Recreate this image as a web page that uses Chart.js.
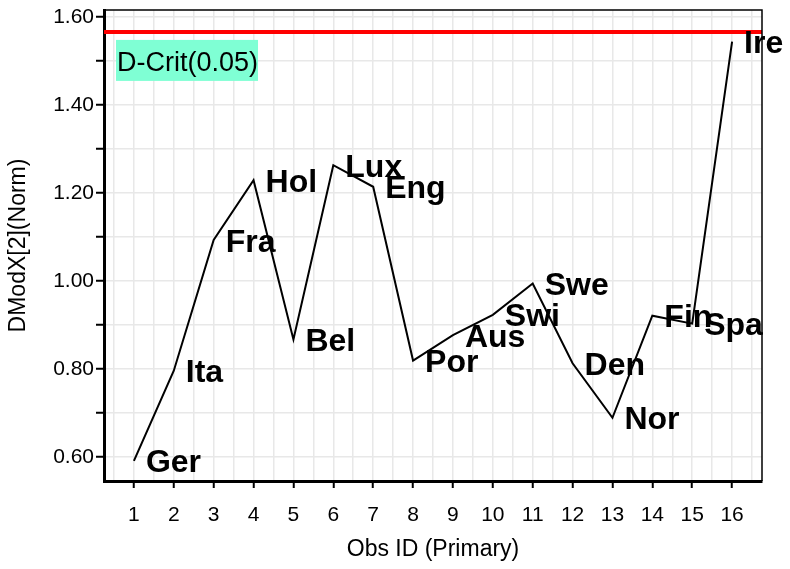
<!DOCTYPE html>
<html>
<head>
<meta charset="utf-8">
<script src="https://cdn.jsdelivr.net/npm/chart.js@4/dist/chart.umd.min.js"></script>
<style>
  html, body { margin: 0; padding: 0; background: #ffffff; }
  canvas { display: block; }
</style>
</head>
<body>
<canvas id="chart" width="790" height="569"></canvas>
<script>
// Observation ids and their short names
const obsIds = [1, 2, 3, 4, 5, 6, 7, 8, 9, 10, 11, 12, 13, 14, 15, 16];
const obsNames = ['Ger', 'Ita', 'Fra', 'Hol', 'Bel', 'Lux', 'Eng', 'Por', 'Aus', 'Swi', 'Swe', 'Den', 'Nor', 'Fin', 'Spa', 'Ire'];

// Normalised distance to the model, DModX[2](Norm)
const dmodx = [0.591, 0.796, 1.093, 1.229, 0.867, 1.263, 1.214, 0.819, 0.877, 0.923, 0.994, 0.813, 0.689, 0.921, 0.903, 1.544];

// Critical distance at the 0.05 level
const dCrit = 1.566;
const dCritLabel = 'D-Crit(0.05)';

// Axis ticks
const xTickValues = [1, 2, 3, 4, 5, 6, 7, 8, 9, 10, 11, 12, 13, 14, 15, 16];
const xGridValues = [0.5, 1, 1.5, 2, 2.5, 3, 3.5, 4, 4.5, 5, 5.5, 6, 6.5, 7, 7.5, 8, 8.5,
                     9, 9.5, 10, 10.5, 11, 11.5, 12, 12.5, 13, 13.5, 14, 14.5, 15, 15.5, 16, 16.5];
const yTickValues = [0.6, 0.7, 0.8, 0.9, 1.0, 1.1, 1.2, 1.3, 1.4, 1.5, 1.6];
const yLabelValues = [0.6, 0.8, 1.0, 1.2, 1.4, 1.6];
const xRange = [0.25, 16.75];
const yRange = [0.5453, 1.6158];

const FONT = "'Liberation Sans', Arial, Helvetica, sans-serif";
const GRID = '#e8e8e8';

const isLabelled = (v, list) => list.some(t => Math.abs(t - v) < 1e-6);

// Bold observation names next to each point
const pointLabels = {
  id: 'pointLabels',
  afterDatasetsDraw(chart) {
    const meta = chart.getDatasetMeta(0);
    const ctx = chart.ctx;
    ctx.save();
    ctx.font = `bold 32px ${FONT}`;
    ctx.fillStyle = '#000000';
    ctx.textAlign = 'left';
    ctx.textBaseline = 'alphabetic';
    meta.data.forEach((pt, i) => {
      ctx.fillText(obsNames[i], pt.x + 12, pt.y + 11.5);
    });
    ctx.restore();
  }
};

// Frame on top/right and the label box under the critical line
const frameAndBox = {
  id: 'frameAndBox',
  afterDatasetsDraw(chart) {
    const { ctx, chartArea: a, scales } = chart;
    ctx.save();
    ctx.strokeStyle = '#000000';
    ctx.lineWidth = 1.5;
    ctx.beginPath();
    ctx.moveTo(a.left, a.top);
    ctx.lineTo(a.right, a.top);
    ctx.lineTo(a.right, a.bottom);
    ctx.stroke();

    const yLine = scales.y.getPixelForValue(dCrit);
    ctx.font = `27px ${FONT}`;
    const w = ctx.measureText(dCritLabel).width;
    const bx = a.left + 12, by = yLine + 8;
    ctx.fillStyle = '#7fffd4';
    ctx.fillRect(bx, by, w + 1, 41);
    ctx.fillStyle = '#000000';
    ctx.textBaseline = 'alphabetic';
    ctx.fillText(dCritLabel, bx + 1, by + 31.5);
    ctx.restore();
  }
};

new Chart(document.getElementById('chart'), {
  type: 'line',
  data: {
    datasets: [
      {
        data: obsIds.map((x, i) => ({ x, y: dmodx[i] })),
        borderColor: '#000000',
        borderWidth: 2,
        pointRadius: 0,
        tension: 0,
        fill: false
      },
      {
        data: [{ x: xRange[0], y: dCrit }, { x: xRange[1], y: dCrit }],
        borderColor: '#ff0000',
        borderWidth: 4,
        pointRadius: 0,
        fill: false
      }
    ]
  },
  options: {
    responsive: false,
    animation: false,
    events: [],
    layout: { padding: { left: 0, right: 28, top: 10, bottom: 0 } },
    plugins: { legend: { display: false }, tooltip: { enabled: false } },
    scales: {
      x: {
        type: 'linear',
        min: xRange[0],
        max: xRange[1],
        afterBuildTicks(scale) { scale.ticks = xGridValues.map(v => ({ value: v })); },
        afterFit(scale) { scale.height = 88; scale.paddingLeft = 0; scale.paddingRight = 0; },
        grid: {
          color: GRID,
          lineWidth: 1.5,
          drawTicks: true,
          tickLength: 7,
          tickWidth: 2,
          tickColor: c => (c.tick && isLabelled(c.tick.value, xTickValues)) ? '#000000' : 'rgba(0,0,0,0)'
        },
        border: { display: true, color: '#000000', width: 3 },
        ticks: {
          autoSkip: false,
          maxRotation: 0,
          padding: 15,
          color: '#000000',
          font: { family: FONT, size: 21 },
          callback: v => isLabelled(v, xTickValues) ? String(v) : ''
        },
        title: {
          display: true,
          text: 'Obs ID (Primary)',
          color: '#000000',
          font: { family: FONT, size: 23 },
          padding: { top: 0, bottom: 6 }
        }
      },
      y: {
        type: 'linear',
        min: yRange[0],
        max: yRange[1],
        afterBuildTicks(scale) { scale.ticks = yTickValues.map(v => ({ value: v })); },
        afterFit(scale) { scale.width = 104; scale.paddingTop = 0; scale.paddingBottom = 0; },
        grid: {
          color: GRID,
          lineWidth: 1.5,
          drawTicks: true,
          tickLength: 8,
          tickWidth: 2,
          tickColor: '#000000'
        },
        border: { display: true, color: '#000000', width: 3 },
        ticks: {
          autoSkip: false,
          padding: 2,
          color: '#000000',
          font: { family: FONT, size: 21 },
          callback: v => isLabelled(v, yLabelValues) ? v.toFixed(2) : ''
        },
        title: {
          display: true,
          text: 'DModX[2](Norm)',
          color: '#000000',
          font: { family: FONT, size: 23 },
          padding: { top: 5, bottom: 0 }
        }
      }
    }
  },
  plugins: [pointLabels, frameAndBox]
});
</script>
</body>
</html>
